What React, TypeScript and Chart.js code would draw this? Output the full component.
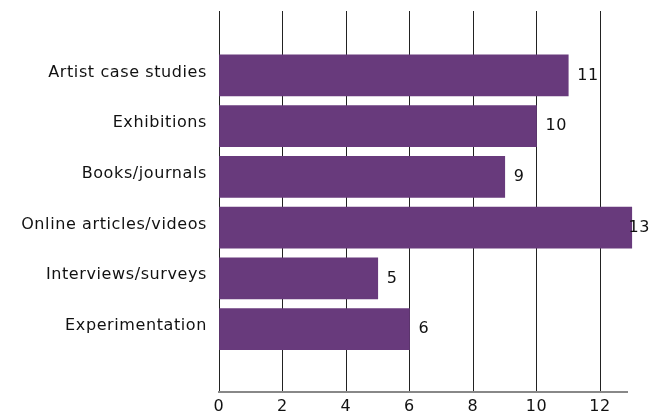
import React, { useEffect, useRef } from "react";
import { Chart, registerables } from "chart.js";

Chart.register(...registerables);

const categories: string[] = [
  "Artist case studies",
  "Exhibitions",
  "Books/journals",
  "Online articles/videos",
  "Interviews/surveys",
  "Experimentation",
];
const counts: number[] = [11, 10, 9, 13, 5, 6];
const xTicks: number[] = [0, 2, 4, 6, 8, 10, 12];

const FONT = "'DejaVu Sans', 'Open Sans', sans-serif";

const spacing = {
  id: "spacing",
  beforeDraw(chart: any) {
    (chart.ctx as any).letterSpacing = "0.6px";
  },
};

const valueLabels = {
  id: "valueLabels",
  afterDatasetsDraw(chart: any) {
    const ctx = chart.ctx;
    const meta = chart.getDatasetMeta(0);
    ctx.save();
    ctx.font = `16px ${FONT}`;
    ctx.fillStyle = "#111";
    ctx.textBaseline = "middle";
    ctx.textAlign = "left";
    meta.data.forEach((bar: any, i: number) => {
      const txt = String(counts[i]);
      const w = ctx.measureText(txt).width;
      let x = bar.x + 9;
      if (x + w > chart.width) x = chart.width - w + 1;
      ctx.fillText(txt, x, bar.y);
    });
    ctx.restore();
  },
};

export default function App() {
  const ref = useRef<HTMLCanvasElement | null>(null);
  useEffect(() => {
    if (!ref.current) return;
    const chart = new Chart(ref.current, {
      type: "bar",
      data: {
        datasets: [
          {
            data: counts.map((v, i) => ({ x: v, y: i })) as any,
            backgroundColor: "#683a7c",
            barThickness: 41,
            clip: false as any,
          },
        ],
      },
      options: {
        indexAxis: "y",
        responsive: false,
        animation: false,
        layout: { padding: { top: 11, right: 22, left: 0, bottom: 0 } },
        plugins: { legend: { display: false }, tooltip: { enabled: false } },
        scales: {
          x: {
            type: "linear",
            min: 0,
            max: 12.85,
            afterBuildTicks: (s: any) => {
              s.ticks = xTicks.map((v) => ({ value: v }));
            },
            afterFit: (s: any) => {
              s.height = 20;
              s.paddingLeft = 0;
              s.paddingRight = 0;
            },
            grid: { color: "#222", lineWidth: 1, drawTicks: false },
            border: { display: true, color: "#888", width: 2 },
            ticks: {
              padding: 5,
              color: "#111",
              font: { family: FONT, size: 16 },
            },
          },
          y: {
            type: "linear",
            reverse: true,
            offset: false,
            min: -1.27,
            max: 6.24,
            afterBuildTicks: (s: any) => {
              s.ticks = categories.map((_, i) => ({ value: i - 0.06 }));
            },
            afterFit: (s: any) => {
              s.width = 219;
              s.paddingTop = 0;
              s.paddingBottom = 0;
            },
            grid: { display: false, offset: false, drawTicks: false },
            border: { display: false },
            ticks: {
              padding: 12,
              color: "#111",
              font: { family: FONT, size: 16 },
              callback: (v: any) => categories[Math.round(v as number)] ?? "",
            },
          },
        },
      },
      plugins: [spacing, valueLabels],
    });
    return () => chart.destroy();
  }, []);
  return (
    <div style={{ position: "fixed", left: 0, top: 0, width: 649, height: 412, background: "#fff" }}>
      <canvas ref={ref} width={649} height={412} />
    </div>
  );
}
